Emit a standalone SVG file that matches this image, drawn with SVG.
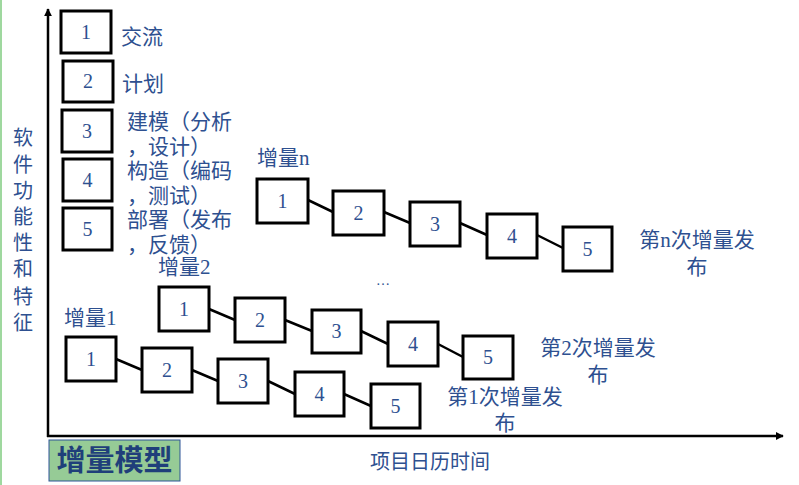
<svg xmlns="http://www.w3.org/2000/svg" width="799" height="485" viewBox="0 0 799 485">
<defs>
<style>
.t{font-family:"Liberation Serif","Noto Sans CJK SC",serif;fill:#2E5090;}
.lab{font-size:21px;}
.num{font-size:20px;text-anchor:middle;}
.box rect{fill:#fff;stroke:#000;stroke-width:3;}
.conn line{stroke:#000;stroke-width:2.5;}
.axis{stroke:#000;stroke-width:2.5;fill:none;}
</style>
<marker id="ah" viewBox="0 0 10 10" refX="9" refY="5" markerWidth="3.2" markerHeight="3.2" orient="auto" markerUnits="strokeWidth">
<path d="M0,0 L10,5 L0,10 z" fill="#000"/>
</marker>
</defs>
<rect x="0" y="0" width="799" height="485" fill="#fff"/>
<line x1="1" y1="0" x2="1" y2="485" stroke="#9FD89F" stroke-width="2"/>
<g id="axes">
<line class="axis" x1="48" y1="437" x2="48" y2="9" marker-end="url(#ah)"/>
<line class="axis" x1="47" y1="436" x2="783" y2="436" marker-end="url(#ah)"/>
</g>
<g id="ylabel" class="t" font-size="20" text-anchor="middle">
<text x="23" y="145">软</text>
<text x="23" y="172">件</text>
<text x="23" y="198">功</text>
<text x="23" y="224">能</text>
<text x="23" y="250">性</text>
<text x="23" y="276">和</text>
<text x="23" y="304">特</text>
<text x="23" y="330">征</text>
</g>
<g id="xlabel"><text class="t" x="430" y="469" font-size="20" text-anchor="middle">项目日历时间</text></g>
<g id="title">
<rect x="49" y="440" width="131" height="41" fill="#96CB96" stroke="#2F5597" stroke-width="1"/>
<text x="114.5" y="471" font-family="'Liberation Serif','Noto Sans CJK SC',serif" font-size="29" font-weight="bold" fill="#1F3F7A" text-anchor="middle">增量模型</text>
</g>
<g id="legend">
<g id="leg1" class="box"><rect x="61" y="11" width="50" height="42"/><text class="t num" x="86" y="39">1</text></g>
<g id="leg2" class="box"><rect x="63" y="61" width="50" height="41"/><text class="t num" x="88" y="88">2</text></g>
<g id="leg3" class="box"><rect x="62" y="110" width="50" height="42"/><text class="t num" x="87" y="138">3</text></g>
<g id="leg4" class="box"><rect x="63" y="159" width="49" height="42"/><text class="t num" x="87.5" y="187">4</text></g>
<g id="leg5" class="box"><rect x="63" y="208" width="49" height="42"/><text class="t num" x="87.5" y="236">5</text></g>
<text class="t lab" x="121" y="44">交流</text>
<text class="t lab" x="122" y="91">计划</text>
<text class="t lab" x="127" y="129">建模（分析</text>
<text class="t lab" x="127" y="154">，设计）</text>
<text class="t lab" x="127" y="178">构造（编码</text>
<text class="t lab" x="127" y="203">，测试）</text>
<text class="t lab" x="127" y="227">部署（发布</text>
<text class="t lab" x="127" y="252">，反馈）</text>
</g>
<g id="connectors" class="conn">
<line x1="308" y1="200" x2="333" y2="212"/>
<line x1="384" y1="212" x2="410" y2="223"/>
<line x1="460" y1="223" x2="487" y2="235"/>
<line x1="537" y1="235" x2="563" y2="248"/>
<line x1="209" y1="309" x2="235" y2="320"/>
<line x1="285" y1="320" x2="312" y2="331"/>
<line x1="361" y1="331" x2="388" y2="344"/>
<line x1="438" y1="344" x2="463" y2="357"/>
<line x1="116" y1="359" x2="142" y2="370"/>
<line x1="192" y1="370" x2="218" y2="381"/>
<line x1="268" y1="381" x2="295" y2="394"/>
<line x1="344" y1="394" x2="371" y2="406"/>
</g>
<g id="incn">
<text class="t lab" x="257" y="165">增量n</text>
<g id="n1" class="box"><rect x="257" y="179" width="51" height="44"/><text class="t num" x="282.5" y="208">1</text></g>
<g id="n2" class="box"><rect x="333" y="191" width="51" height="44"/><text class="t num" x="358.5" y="220">2</text></g>
<g id="n3" class="box"><rect x="410" y="202" width="50" height="44"/><text class="t num" x="435" y="231">3</text></g>
<g id="n4" class="box"><rect x="487" y="214" width="50" height="44"/><text class="t num" x="512" y="243">4</text></g>
<g id="n5" class="box"><rect x="563" y="227" width="49" height="44"/><text class="t num" x="587.5" y="256">5</text></g>
<text class="t lab" x="697" y="247" text-anchor="middle">第n次增量发</text>
<text class="t lab" x="697" y="274" text-anchor="middle">布</text>
</g>
<g id="dots"><text class="t" x="383" y="285" font-size="14" text-anchor="middle">…</text></g>
<g id="inc2">
<text class="t lab" x="158" y="274">增量2</text>
<g id="b21" class="box"><rect x="159" y="287" width="50" height="44"/><text class="t num" x="184" y="316">1</text></g>
<g id="b22" class="box"><rect x="235" y="298" width="50" height="44"/><text class="t num" x="260" y="327">2</text></g>
<g id="b23" class="box"><rect x="312" y="310" width="49" height="43"/><text class="t num" x="336.5" y="338">3</text></g>
<g id="b24" class="box"><rect x="388" y="322" width="50" height="44"/><text class="t num" x="413" y="351">4</text></g>
<g id="b25" class="box"><rect x="463" y="336" width="50" height="43"/><text class="t num" x="488" y="364">5</text></g>
<text class="t lab" x="598" y="355" text-anchor="middle">第2次增量发</text>
<text class="t lab" x="598" y="382" text-anchor="middle">布</text>
</g>
<g id="inc1">
<text class="t lab" x="64" y="325">增量1</text>
<g id="b11" class="box"><rect x="66" y="337" width="50" height="44"/><text class="t num" x="91" y="366">1</text></g>
<g id="b12" class="box"><rect x="142" y="348" width="50" height="44"/><text class="t num" x="167" y="377">2</text></g>
<g id="b13" class="box"><rect x="218" y="359" width="50" height="44"/><text class="t num" x="243" y="388">3</text></g>
<g id="b14" class="box"><rect x="295" y="372" width="49" height="44"/><text class="t num" x="319.5" y="401">4</text></g>
<g id="b15" class="box"><rect x="371" y="384" width="49" height="44"/><text class="t num" x="395.5" y="413">5</text></g>
<text class="t lab" x="505" y="404" text-anchor="middle">第1次增量发</text>
<text class="t lab" x="505" y="430" text-anchor="middle">布</text>
</g>
</svg>
